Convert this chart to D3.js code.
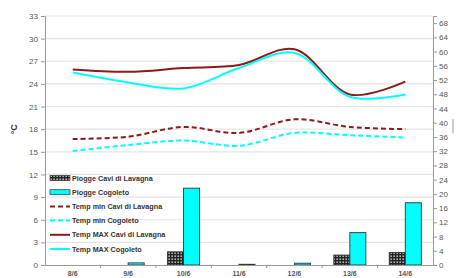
<!DOCTYPE html>
<html>
<head>
<meta charset="utf-8">
<script src="https://cdn.jsdelivr.net/npm/d3@7"></script>
<style>
  body { margin: 0; background: #fff; }
  svg { display: block; font-family: "Liberation Sans", Arial, sans-serif; }
</style>
</head>
<body>
<svg id="chart"></svg>
<script>
const days = ['8/6', '9/6', '10/6', '11/6', '12/6', '13/6', '14/6'];
const rainCavi = [0, 0, 3.7, 0, 0, 2.8, 3.5];
const rainCogoleto = [0, 0.6, 21.6, 0.2, 0.5, 9.1, 17.5];
const tMinCavi = [16.7, 17.0, 18.3, 17.5, 19.3, 18.3, 18.0];
const tMinCogoleto = [15.1, 15.9, 16.5, 15.8, 17.5, 17.2, 16.9];
const tMaxCavi = [25.9, 25.6, 26.1, 26.5, 28.6, 22.6, 24.3];
const tMaxCogoleto = [25.5, 24.2, 23.4, 26.1, 28.1, 22.3, 22.6];
const leftTicks = [0, 3, 6, 9, 12, 15, 18, 21, 24, 27, 30, 33];
const rightTicks = [0, 4, 8, 12, 16, 20, 24, 28, 32, 36, 40, 44, 48, 52, 56, 60, 64, 68];

const width = 462, height = 278;
const plot = { left: 45, right: 433, top: 16, bottom: 265 };
const red = '#8c1a1a', cyan = '#00ffff';

const svg = d3.select('#chart').attr('width', width).attr('height', height);

const defs = svg.append('defs');
const pat = defs.append('pattern')
    .attr('id', 'checker')
    .attr('width', 3).attr('height', 3)
    .attr('patternUnits', 'userSpaceOnUse');
pat.append('rect').attr('width', 3).attr('height', 3).attr('fill', '#222');
pat.append('rect').attr('x', 0.5).attr('y', 0.5).attr('width', 1.3).attr('height', 1.3).attr('fill', '#fff');

const x = d3.scaleBand().domain(days).range([plot.left, plot.right]);
const xInner = d3.scaleBand().domain(['cavi', 'cogo'])
    .range([0, x.bandwidth()]).paddingInner(0).paddingOuter(0.73);
const yL = d3.scaleLinear().domain([0, 33]).range([plot.bottom, plot.top]);
const yR = d3.scaleLinear().domain([0, 70]).range([plot.bottom, plot.top]);

// grid
svg.append('g')
    .selectAll('line')
    .data(leftTicks.filter(d => d > 0))
    .join('line')
    .attr('x1', plot.left).attr('x2', plot.right)
    .attr('y1', d => yL(d)).attr('y2', d => yL(d))
    .attr('stroke', '#e4e4e4').attr('stroke-width', 1.2);

// bars
const rainRows = days.map((d, i) => [
    { day: d, key: 'cavi', v: rainCavi[i] },
    { day: d, key: 'cogo', v: rainCogoleto[i] },
]).flat().filter(d => d.v > 0);

svg.append('g')
    .selectAll('rect')
    .data(rainRows)
    .join('rect')
    .attr('x', d => x(d.day) + xInner(d.key))
    .attr('width', xInner.bandwidth())
    .attr('y', d => yR(d.v))
    .attr('height', d => yR(0) - yR(d.v))
    .attr('fill', d => d.key === 'cavi' ? 'url(#checker)' : cyan)
    .attr('stroke', '#333')
    .attr('stroke-width', 0.9);

// lines
const line = d3.line()
    .x((d, i) => x(days[i]) + x.bandwidth() / 2)
    .y(d => yL(d))
    .curve(d3.curveCatmullRom.alpha(0.5));

const series = [
    { name: 'Temp min Cavi di Lavagna', values: tMinCavi, color: red, dash: '5,3' },
    { name: 'Temp min Cogoleto', values: tMinCogoleto, color: cyan, dash: '5,3' },
    { name: 'Temp MAX Cavi di Lavagna', values: tMaxCavi, color: red, dash: null },
    { name: 'Temp MAX Cogoleto', values: tMaxCogoleto, color: cyan, dash: null },
];

svg.append('g')
    .selectAll('path')
    .data(series)
    .join('path')
    .attr('d', d => line(d.values))
    .attr('fill', 'none')
    .attr('stroke', d => d.color)
    .attr('stroke-width', 2)
    .attr('stroke-dasharray', d => d.dash);

// axes
const axisL = svg.append('g')
    .attr('transform', `translate(${plot.left},0)`)
    .call(d3.axisLeft(yL).tickValues(leftTicks).tickSize(4).tickPadding(3));
const axisR = svg.append('g')
    .attr('transform', `translate(${plot.right},0)`)
    .call(d3.axisRight(yR).tickValues(rightTicks).tickSize(4).tickPadding(2));
const axisB = svg.append('g')
    .attr('transform', `translate(0,${plot.bottom})`)
    .call(d3.axisBottom(x).tickSize(0).tickPadding(6));

[axisL, axisR, axisB].forEach(a => {
    a.select('.domain').attr('stroke', '#999');
    a.selectAll('.tick line').attr('stroke', '#999');
    a.selectAll('text').attr('fill', '#555').attr('font-size', 8);
});
axisB.selectAll('text').attr('font-weight', 'bold').attr('font-size', 7);

// small band separator ticks on x axis
svg.append('g')
    .selectAll('line')
    .data(days.slice(1))
    .join('line')
    .attr('x1', d => x(d)).attr('x2', d => x(d))
    .attr('y1', plot.bottom).attr('y2', plot.bottom + 3)
    .attr('stroke', '#999');

// axis titles
svg.append('text')
    .attr('transform', `translate(17,${yL(18)}) rotate(-90)`)
    .attr('text-anchor', 'middle')
    .attr('font-size', 9)
    .attr('font-weight', 'bold')
    .attr('fill', '#333')
    .text('°C');
// right title is clipped by the frame: only a sliver shows
svg.append('line')
    .attr('x1', 453).attr('x2', 453)
    .attr('y1', yR(41)).attr('y2', yR(37))
    .attr('stroke', '#999').attr('stroke-width', 1);

// legend
const legendItems = [
    { name: 'Piogge Cavi di Lavagna', type: 'bar', fill: 'url(#checker)' },
    { name: 'Piogge Cogoleto', type: 'bar', fill: cyan },
    ...series.map(s => ({ name: s.name, type: 'line', color: s.color, dash: s.dash })),
];
const legend = svg.append('g').attr('transform', 'translate(50,178)');
const rows = legend.selectAll('g')
    .data(legendItems)
    .join('g')
    .attr('transform', (d, i) => `translate(0,${i * 14.2})`);
rows.filter(d => d.type === 'bar')
    .append('rect')
    .attr('x', 0).attr('y', -2.5).attr('width', 20).attr('height', 5)
    .attr('fill', d => d.fill)
    .attr('stroke', '#333').attr('stroke-width', 0.7);
rows.filter(d => d.type === 'line')
    .append('line')
    .attr('x1', 0).attr('x2', 20)
    .attr('stroke', d => d.color)
    .attr('stroke-width', 2)
    .attr('stroke-dasharray', d => d.dash);
rows.append('text')
    .attr('x', 22).attr('dy', '0.35em')
    .attr('font-size', 7.2)
    .attr('font-weight', 'bold')
    .attr('fill', '#333')
    .text(d => d.name);
</script>
</body>
</html>
